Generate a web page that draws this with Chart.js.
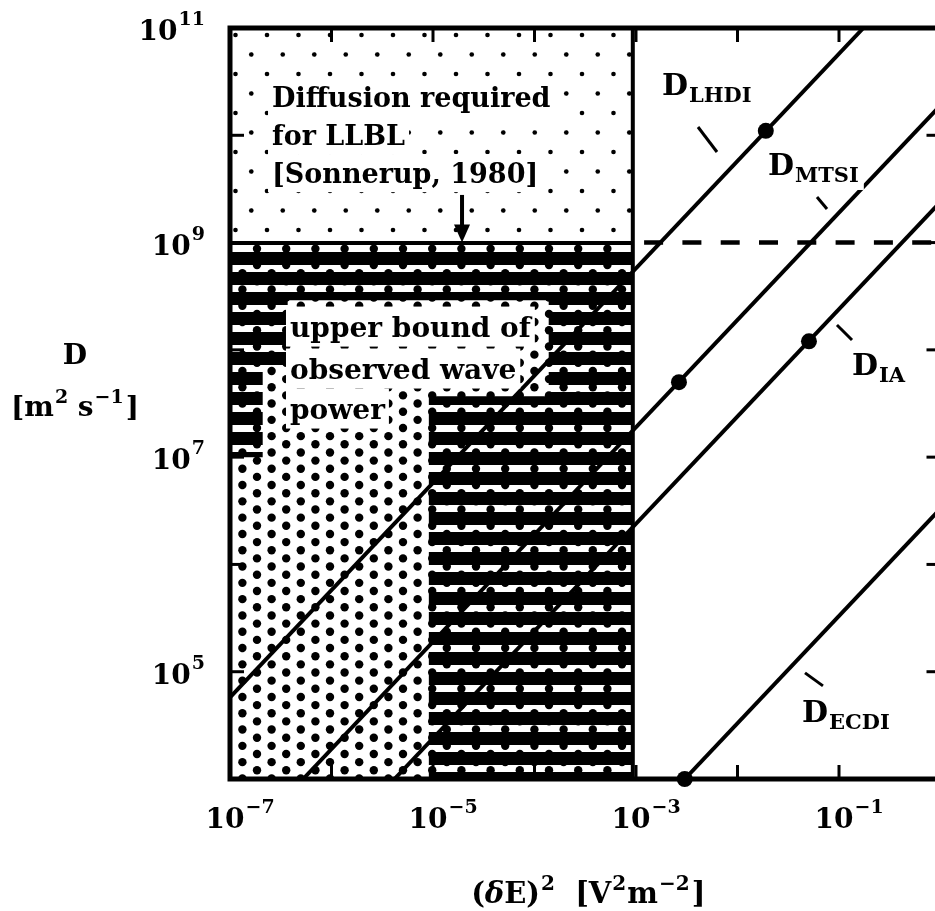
<!DOCTYPE html>
<html><head><meta charset="utf-8">
<script src="https://cdn.jsdelivr.net/npm/chart.js@4.4.0/dist/chart.umd.min.js"></script>
<style>
html,body{margin:0;padding:0;background:#fff;overflow:hidden;width:935px;height:911px}
#wrap{position:relative;width:950px;height:911px}
</style></head><body>
<div id="wrap"><canvas id="c" width="950" height="911"></canvas></div>
<script>
// ---------------- data ----------------
const xRange = [1e-7, 1];            // (δE)^2  [V^2 m^-2]
const yRange = [1e4, 1e11];          // D  [m^2 s^-1]
const xTickExponents = [-7, -5, -3, -1];
const yTickExponents = [5, 7, 9, 11];
const xMajorDecades = [-7, -6, -5, -4, -3, -2, -1, 0];
const yMajorDecades = [4, 5, 6, 7, 8, 9, 10, 11];

const waveBound = 9.3e-4;            // upper bound of observed wave power
const llblD = 1e9;                   // diffusion required for LLBL

const lineLHDI = [{x:1e-7, y:5.75e4}, {x:0.174, y:1e11}];
const lineMTSI = [{x:5.25e-7, y:1e4}, {x:1, y:1.9e10}];
const lineIA   = [{x:4.17e-6, y:1e4}, {x:1, y:2.4e9}];
const lineECDI = [{x:3.02e-3, y:1e4}, {x:1, y:3.31e6}];
const markerPoints = [{x:0.019, y:1.1e10}, {x:2.65e-3, y:5.0e7}, {x:0.0506, y:1.2e8}, {x:3.02e-3, y:1e4}];

const llblRegion = [{x:1e-7,y:1e9},{x:1e-7,y:1e11},{x:waveBound,y:1e11},{x:waveBound,y:1e9}];
const waveRegion = [{x:1e-7,y:1e4},{x:1e-7,y:1e9},{x:waveBound,y:1e9},{x:waveBound,y:1e4}];
const stripeRegion = [
  {x:1e-7,y:1e9},{x:waveBound,y:1e9},{x:waveBound,y:1e4},{x:9.1e-6,y:1e4},
  {x:9.1e-6,y:3.7e7},{x:1.38e-4,y:3.7e7},{x:1.38e-4,y:2.9e8},{x:3.7e-7,y:2.9e8},
  {x:3.7e-7,y:7.1e7},{x:2.1e-7,y:7.1e7},{x:2.1e-7,y:1e7},{x:1e-7,y:1e7}
];
const boundLine = [{x:waveBound,y:1e4},{x:waveBound,y:1e11}];
const llblLine  = [{x:waveBound,y:llblD},{x:1,y:llblD}];
const llblEdge  = [{x:1e-7,y:llblD},{x:waveBound,y:llblD}];

// ---------------- annotation placement (style) ----------------
const FONT = '"DejaVu Serif", serif';
const textBlocks = [
  {lines:['Diffusion required','for LLBL','[Sonnerup, 1980]'], lx:-6.586, ly:[10.264, 9.910, 9.555], gap:38, size:27},
  {lines:['upper bound of','observed wave','power'], lx:-6.409, ly:[8.120, 7.729, 7.356], gap:40, size:28}
];
const lineLabels = [
  {sub:'LHDI', lx:-2.744, ly:10.376, lead:[-2.389,10.077,-2.202,9.844]},
  {sub:'MTSI', lx:-1.700, ly:9.630,  lead:[-1.217,9.425,-1.118,9.313]},
  {sub:'IA',   lx:-0.872, ly:7.766,  lead:[-1.020,8.232,-0.872,8.092]},
  {sub:'ECDI', lx:-1.365, ly:4.532,  lead:[-1.335,4.989,-1.158,4.868]}
];
const arrowSpec = {lx:-4.714, ly0:9.444, ly1:9.0};

// ---------------- patterns ----------------
function makePattern(w, h, draw){
  const c = document.createElement('canvas'); c.width = w; c.height = h;
  const g = c.getContext('2d'); draw(g, w, h);
  return document.getElementById('c').getContext('2d').createPattern(c, 'repeat');
}
function dotWrap(g, x, y, r, w, h){
  for (const dx of [-w,0,w]) for (const dy of [-h,0,h]) {
    g.beginPath(); g.arc(x+dx, y+dy, r, 0, Math.PI*2); g.fill();
  }
}
const hexDots = makePattern(146, 163, (g,w,h)=>{
  g.fillStyle = '#000';
  for (let i=0;i<10;i++){
    const x = 8.8 + i*14.6;
    const y0 = (i%2===1) ? 4.2 : 12.35;
    for (let j=0;j<10;j++) dotWrap(g, x, y0 + j*16.3, 4.2, w, h);
  }
});
const stipple = makePattern(63, 78, (g,w,h)=>{
  g.fillStyle = '#000';
  for (let i=0;i<2;i++) for (let j=0;j<2;j++){
    dotWrap(g, 15 + i*31.5, 35 + j*39 - 39, 2.3, w, h);
    dotWrap(g, 30.75 + i*31.5, 54.5 + j*39 - 39, 2.3, w, h);
  }
});
const stripes = makePattern(8, 20, (g)=>{
  g.fillStyle = '#000';
  g.fillRect(0, 12, 8, 8); g.fillRect(0, 0, 8, 5);
});

// ---------------- helpers ----------------
function drawRich(ctx, parts, x, y, align){
  let total = 0;
  for (const p of parts){ ctx.font = p.f; p.w = ctx.measureText(p.t).width; total += p.w + (p.gap||0); }
  let cx = align==='right' ? x - total : align==='center' ? x - total/2 : x;
  for (const p of parts){
    ctx.font = p.f; ctx.fillText(p.t, cx + (p.gap||0), y + (p.dy||0));
    cx += p.w + (p.gap||0);
  }
  return total;
}
const P = (e)=>Math.pow(10, e);

const annot = {
  id:'annot',
  afterDatasetsDraw(chart){
    const {ctx, scales:{x, y}} = chart;
    ctx.save();
    ctx.textBaseline = 'alphabetic';
    // text blocks with white backing
    for (const b of textBlocks){
      ctx.font = 'bold ' + b.size + 'px ' + FONT;
      const left = x.getPixelForValue(P(b.lx));
      b.lines.forEach((t, i)=>{
        const base = y.getPixelForValue(P(b.ly[i]));
        const w = ctx.measureText(t).width;
        ctx.fillStyle = '#fff';
        ctx.fillRect(left - 4, base - b.gap*0.76, w + 8, b.gap);
      });
      ctx.fillStyle = '#000';
      b.lines.forEach((t, i)=>{
        const base = y.getPixelForValue(P(b.ly[i]));
        ctx.fillText(t, left, base);
      });
    }
    // line labels
    const fD = 'bold 30px ' + FONT, fS = 'bold 21px ' + FONT;
    for (const L of lineLabels){
      const px = x.getPixelForValue(P(L.lx)), py = y.getPixelForValue(P(L.ly));
      ctx.font = fD; const wD = ctx.measureText('D').width;
      ctx.font = fS; const wS = ctx.measureText(L.sub).width;
      ctx.fillStyle = '#fff';
      ctx.fillRect(px - 4, py - 27, wD + wS + 10, 42);
      ctx.fillStyle = '#000';
      drawRich(ctx, [{t:'D', f:fD}, {t:L.sub, f:fS, dy:7, gap:1}], px, py, 'left');
      ctx.strokeStyle = '#000'; ctx.lineWidth = 3; ctx.lineCap = 'butt';
      ctx.beginPath();
      ctx.moveTo(x.getPixelForValue(P(L.lead[0])), y.getPixelForValue(P(L.lead[1])));
      ctx.lineTo(x.getPixelForValue(P(L.lead[2])), y.getPixelForValue(P(L.lead[3])));
      ctx.stroke();
    }
    // arrow
    const ax = x.getPixelForValue(P(arrowSpec.lx));
    const ay0 = y.getPixelForValue(P(arrowSpec.ly0)), ay1 = y.getPixelForValue(P(arrowSpec.ly1));
    ctx.fillStyle = '#000';
    ctx.fillRect(ax - 2, ay0, 4, (ay1 - ay0) - 12);
    ctx.beginPath(); ctx.moveTo(ax - 8, ay1 - 18); ctx.lineTo(ax + 8, ay1 - 18); ctx.lineTo(ax, ay1); ctx.closePath(); ctx.fill();
    ctx.restore();
  },
  afterDraw(chart){
    const {ctx, chartArea:a, scales:{x, y}} = chart;
    ctx.save();
    ctx.strokeStyle = '#000'; ctx.fillStyle = '#000';
    // inward ticks
    ctx.lineWidth = 3;
    const TL = 14;
    for (const e of xMajorDecades){
      const px = x.getPixelForValue(P(e));
      ctx.beginPath(); ctx.moveTo(px, a.bottom); ctx.lineTo(px, a.bottom - TL); ctx.stroke();
      ctx.beginPath(); ctx.moveTo(px, a.top); ctx.lineTo(px, a.top + TL); ctx.stroke();
    }
    for (const e of yMajorDecades){
      const py = y.getPixelForValue(P(e));
      ctx.beginPath(); ctx.moveTo(a.left, py); ctx.lineTo(a.left + TL, py); ctx.stroke();
      ctx.beginPath(); ctx.moveTo(a.right, py); ctx.lineTo(a.right - TL, py); ctx.stroke();
    }
    // frame
    ctx.lineWidth = 5;
    ctx.strokeRect(a.left, a.top, a.right - a.left, a.bottom - a.top);
    // tick labels
    const big = 'bold 28px ' + FONT, sup = 'bold 19px ' + FONT;
    ctx.textBaseline = 'alphabetic';
    for (const e of xTickExponents){
      const px = x.getPixelForValue(P(e));
      ctx.font = big; const w10 = ctx.measureText('10').width;
      const left = px - 5 - w10/2;
      drawRich(ctx, [{t:'10', f:big}, {t:'\u2212' + Math.abs(e), f:sup, dy:-15, gap:1}], left, a.bottom + 49, 'left');
    }
    for (const e of yTickExponents){
      const py = y.getPixelForValue(P(e));
      drawRich(ctx, [{t:'10', f:big}, {t:String(e), f:sup, dy:-15, gap:1}], a.left - 25, py + 12, 'right');
    }
    // axis titles
    const cy = (a.top + a.bottom) / 2;
    drawRich(ctx, [{t:'D', f:big}], a.left - 155, cy - 40, 'center');
    drawRich(ctx, [{t:'[m', f:big}, {t:'2', f:sup, dy:-13, gap:1}, {t:' s', f:big}, {t:'\u22121', f:sup, dy:-13, gap:1}, {t:']', f:big, gap:2}],
      a.left - 155, cy + 12, 'center');
    const cx = (a.left + a.right) / 2;
    const tb = 'bold 29px ' + FONT, ts = 'bold 20px ' + FONT;
    drawRich(ctx, [{t:'(', f:tb}, {t:'\u03b4', f:'italic bold 29px '+FONT}, {t:'E)', f:tb}, {t:'2', f:ts, dy:-13, gap:1},
      {t:'  [V', f:tb}, {t:'2', f:ts, dy:-13, gap:1}, {t:'m', f:tb, gap:1}, {t:'\u22122', f:ts, dy:-13, gap:1}, {t:']', f:tb, gap:2}],
      cx + 3, a.bottom + 124, 'center');
    ctx.restore();
  }
};

const lineStyle = {borderColor:'#000', borderWidth:4, pointRadius:0, fill:false, tension:0};
new Chart(document.getElementById('c'), {
  type:'line',
  data:{datasets:[
    {label:'LLBL diffusion region', data:llblRegion, fill:'shape', backgroundColor:stipple, borderWidth:0, pointRadius:0, order:30},
    {label:'observed wave power', data:waveRegion, fill:'shape', backgroundColor:hexDots, borderWidth:0, pointRadius:0, order:29},
    {label:'overlap', data:stripeRegion, fill:'shape', backgroundColor:stripes, borderWidth:0, pointRadius:0, order:28},
    Object.assign({label:'wave bound', data:boundLine, order:20}, lineStyle),
    Object.assign({label:'LLBL edge', data:llblEdge, order:20}, lineStyle, {borderWidth:3}),
    Object.assign({label:'LLBL', data:llblLine, order:20}, lineStyle, {borderWidth:4.5, borderDash:[19,19.3], borderDashOffset:27}),
    Object.assign({label:'D_LHDI', data:lineLHDI, order:10}, lineStyle),
    Object.assign({label:'D_MTSI', data:lineMTSI, order:10}, lineStyle),
    Object.assign({label:'D_IA', data:lineIA, order:10}, lineStyle),
    Object.assign({label:'D_ECDI', data:lineECDI, order:10}, lineStyle),
    {label:'markers', data:markerPoints, showLine:false, pointRadius:8, pointBackgroundColor:'#000', pointBorderWidth:0, clip:false, order:1}
  ]},
  options:{
    responsive:false, animation:false, devicePixelRatio:1,
    layout:{padding:{left:230, right:9.5, top:28, bottom:132}},
    scales:{
      x:{type:'logarithmic', min:xRange[0], max:xRange[1], display:false},
      y:{type:'logarithmic', min:yRange[0], max:yRange[1], display:false}
    },
    plugins:{legend:{display:false}, tooltip:{enabled:false}},
    events:[]
  },
  plugins:[annot]
});
</script>
</body></html>
